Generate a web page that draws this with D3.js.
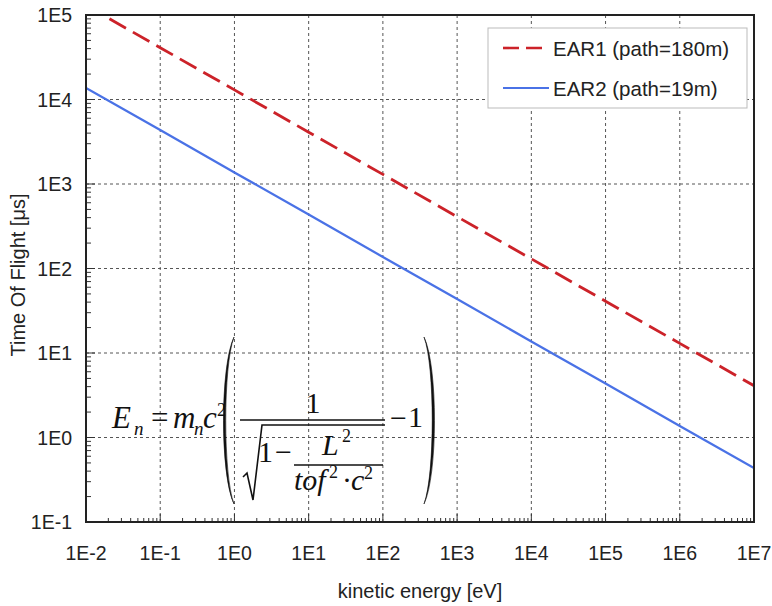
<!DOCTYPE html>
<html><head><meta charset="utf-8">
<script src="https://cdn.jsdelivr.net/npm/d3@7"></script>
<style>body{margin:0;background:#fff}svg{display:block}</style>
</head><body>
<svg id="c" width="772" height="606"></svg>
<script>
// Data (kinetic energy in eV, time of flight in µs)
const energies = [1e-2, 1e-1, 1e0, 1e1, 1e2, 1e3, 1e4, 1e5, 1e6, 1e7];
const ear1Tof = [1.3e5, 4.1e4, 1.3e4, 4.1e3, 1.3e3, 4.1e2, 1.3e2, 41, 13, 4.1];
const ear2Tof = [1.37e4, 4.35e3, 1.37e3, 435, 137, 43.5, 13.7, 4.35, 1.37, 0.435];
const seriesNames = ["EAR1 (path=180m)", "EAR2 (path=19m)"];
const xTickLabels = ["1E-2","1E-1","1E0","1E1","1E2","1E3","1E4","1E5","1E6","1E7"];
const yTickLabels = ["1E-1","1E0","1E1","1E2","1E3","1E4","1E5"];

const W = 772, H = 606;
const m = {l: 86, t: 15, r: 18, b: 84};
const svg = d3.select("#c");
const x = d3.scaleLog().domain([1e-2, 1e7]).range([m.l, W - m.r]);
const y = d3.scaleLog().domain([1e-1, 1e5]).range([H - m.b, m.t]);
const font = "'Liberation Sans', Arial, sans-serif";

const xDec = d3.range(-2, 8).map(e => Math.pow(10, e));
const yDec = d3.range(-1, 6).map(e => Math.pow(10, e));

// gridlines
const g = svg.append("g");
g.selectAll(".gx").data(xDec.slice(1, -1)).join("line")
  .attr("x1", d => x(d)).attr("x2", d => x(d)).attr("y1", m.t).attr("y2", H - m.b)
  .attr("stroke", "#555").attr("stroke-dasharray", "3,3").attr("stroke-width", 1);
g.selectAll(".gy").data(yDec.slice(1, -1)).join("line")
  .attr("y1", d => y(d)).attr("y2", d => y(d)).attr("x1", m.l).attr("x2", W - m.r)
  .attr("stroke", "#555").attr("stroke-dasharray", "3,3").attr("stroke-width", 1);

// minor ticks
const xMinor = [], yMinor = [];
for (let e = -2; e < 7; e++) for (let k = 2; k <= 9; k++) xMinor.push(k * Math.pow(10, e));
for (let e = -1; e < 5; e++) for (let k = 2; k <= 9; k++) yMinor.push(k * Math.pow(10, e));
svg.append("g").selectAll("line").data(xMinor).join("line")
  .attr("x1", d => x(d)).attr("x2", d => x(d)).attr("y1", H - m.b).attr("y2", H - m.b - 4)
  .attr("stroke", "#333").attr("stroke-width", 1);
svg.append("g").selectAll("line").data(xDec).join("line")
  .attr("x1", d => x(d)).attr("x2", d => x(d)).attr("y1", H - m.b).attr("y2", H - m.b - 8)
  .attr("stroke", "#333").attr("stroke-width", 1);
svg.append("g").selectAll("line").data(yMinor).join("line")
  .attr("y1", d => y(d)).attr("y2", d => y(d)).attr("x1", m.l).attr("x2", m.l + 5)
  .attr("stroke", "#333").attr("stroke-width", 1);
svg.append("g").selectAll("line").data(yDec).join("line")
  .attr("y1", d => y(d)).attr("y2", d => y(d)).attr("x1", m.l).attr("x2", m.l + 9)
  .attr("stroke", "#333").attr("stroke-width", 1);

// lines
svg.append("clipPath").attr("id", "clip").append("rect")
  .attr("x", m.l).attr("y", m.t).attr("width", W - m.l - m.r).attr("height", H - m.t - m.b);
const line = d3.line().x(d => x(d[0])).y(d => y(d[1]));
const lg = svg.append("g").attr("clip-path", "url(#clip)");
lg.append("path").datum(energies.map((e, i) => [e, ear1Tof[i]]))
  .attr("d", line).attr("fill", "none").attr("stroke", "#cc2229").attr("stroke-width", 2.8)
  .attr("stroke-dasharray", "19,8");
lg.append("path").datum(energies.map((e, i) => [e, ear2Tof[i]]))
  .attr("d", line).attr("fill", "none").attr("stroke", "#4a72e6").attr("stroke-width", 2.3);

// frame
svg.append("rect").attr("x", m.l).attr("y", m.t).attr("width", W - m.l - m.r).attr("height", H - m.t - m.b)
  .attr("fill", "none").attr("stroke", "#222").attr("stroke-width", 2);

// tick labels
svg.append("g").selectAll("text").data(xDec).join("text")
  .attr("x", d => x(d)).attr("y", 560).attr("text-anchor", "middle")
  .attr("font-family", font).attr("font-size", 19.5).attr("fill", "#222")
  .text((d, i) => xTickLabels[i]);
svg.append("g").selectAll("text").data(yDec).join("text")
  .attr("x", 72).attr("y", d => y(d) + 7).attr("text-anchor", "end")
  .attr("font-family", font).attr("font-size", 19.5).attr("fill", "#222")
  .text((d, i) => yTickLabels[i]);

// axis titles
svg.append("text").attr("x", (m.l + W - m.r) / 2).attr("y", 598).attr("text-anchor", "middle")
  .attr("font-family", font).attr("font-size", 20).attr("fill", "#222").text("kinetic energy [eV]");
svg.append("text").attr("transform", "translate(25,275) rotate(-90)")
  .attr("text-anchor", "middle").attr("font-family", font).attr("font-size", 20).attr("fill", "#222")
  .text("Time Of Flight [μs]");

// legend
const leg = svg.append("g");
leg.append("rect").attr("x", 488).attr("y", 28).attr("width", 259).attr("height", 80)
  .attr("fill", "#fff").attr("stroke", "#bbb").attr("stroke-width", 1);
leg.append("line").attr("x1", 503).attr("x2", 548).attr("y1", 48).attr("y2", 48)
  .attr("stroke", "#cc2229").attr("stroke-width", 2.6).attr("stroke-dasharray", "16,7");
leg.append("line").attr("x1", 503).attr("x2", 549).attr("y1", 88).attr("y2", 88)
  .attr("stroke", "#4a72e6").attr("stroke-width", 2.2);
leg.selectAll("text").data(seriesNames).join("text")
  .attr("x", 553).attr("y", (d, i) => 56 + i * 40)
  .attr("font-family", font).attr("font-size", 20.5).attr("fill", "#222").text(d => d);

// formula
const f = svg.append("g").attr("font-family", "'Liberation Serif', 'Times New Roman', serif").attr("fill", "#111");
function t(txt, xx, yy, size, italic, anchor) {
  f.append("text").attr("x", xx).attr("y", yy).attr("font-size", size)
    .attr("font-style", italic ? "italic" : "normal").attr("text-anchor", anchor || "start").text(txt);
}
t("E", 112, 428, 31, true);
t("n", 134, 435, 19, true);
t("=", 151, 428, 31, false);
t("m", 173, 428, 31, true);
t("n", 194, 435, 19, true);
t("c", 203, 428, 31, true);
t("2", 217, 416, 18, false);
// parentheses (filled crescents)
f.append("path").attr("d", "M234,337 C220,366 220,475 234,504 C223,475 223,366 234,337 Z").attr("fill", "#111").attr("stroke", "#111").attr("stroke-width", 0.6);
f.append("path").attr("d", "M424,337 C438,366 438,475 424,504 C435,475 435,366 424,337 Z").attr("fill", "#111").attr("stroke", "#111").attr("stroke-width", 0.6);
// main fraction
t("1", 313, 413, 30, false, "middle");
f.append("line").attr("x1", 240).attr("x2", 385).attr("y1", 420).attr("y2", 420).attr("stroke", "#111").attr("stroke-width", 1.5);
// sqrt
f.append("path").attr("d", "M243,477 L247,473 L253,500 L262,425 L385,425").attr("fill", "none").attr("stroke", "#111").attr("stroke-width", 1.6);
t("1", 258, 462, 30, false);
t("\u2212", 275, 462, 30, false);
t("L", 322, 455, 30, true);
t("2", 342, 442, 18, false);
f.append("line").attr("x1", 294).attr("x2", 383).attr("y1", 465).attr("y2", 465).attr("stroke", "#111").attr("stroke-width", 1.3);
t("tof", 294, 490, 30, true);
t("2", 329, 478, 18, false);
t("\u00b7", 342, 490, 30, false);
t("c", 351, 490, 30, true);
t("2", 364, 479, 18, false);
t("\u2212", 390, 428, 30, false);
t("1", 408, 427, 30, false);
</script>
</body></html>
